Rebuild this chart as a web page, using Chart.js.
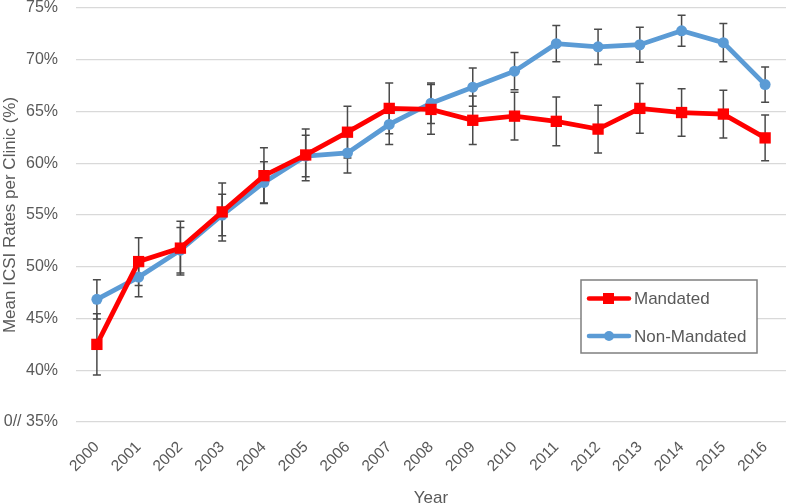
<!DOCTYPE html>
<html lang="en">
<head>
    <meta charset="UTF-8">
    <title>Mean ICSI Rates per Clinic</title>
    <script src="https://cdn.jsdelivr.net/npm/chart.js"></script>
    <style>
        html, body { margin: 0; padding: 0; background: #fff; overflow: hidden; }
        /* a little wider than the window: the x scale keeps ~8px on its right */
        #wrap { width: 794px; height: 504px; position: relative; }
        #icsiChart { display: block; }
    </style>
</head>
<body>
<div id="wrap">
    <canvas id="icsiChart"></canvas>
</div>

<script>
    // data
    const years = ['2000', '2001', '2002', '2003', '2004', '2005', '2006', '2007', '2008',
                   '2009', '2010', '2011', '2012', '2013', '2014', '2015', '2016'];
    const mandated = [42.5, 50.5, 51.8, 55.3, 58.8, 60.8, 63.0, 65.3, 65.2,
                      64.15, 64.55, 64.05, 63.3, 65.3, 64.9, 64.75, 62.45];
    const mandatedErr = [2.95, 2.3, 2.6, 2.8, 2.7, 2.5, 2.5, 2.45, 2.4,
                         2.35, 2.3, 2.35, 2.3, 2.4, 2.3, 2.3, 2.2];
    const nonMandated = [46.85, 49.0, 51.6, 55.0, 58.15, 60.7, 61.0, 63.75, 65.8,
                         67.35, 68.9, 71.55, 71.25, 71.45, 72.8, 71.65, 67.6];
    const nonMandatedErr = [1.9, 1.9, 2.2, 2.0, 2.0, 2.0, 1.95, 1.95, 1.95,
                            1.85, 1.8, 1.75, 1.7, 1.7, 1.5, 1.85, 1.7];
    const yTicks = [35, 40, 45, 50, 55, 60, 65, 70, 75];

    const FONT = "'Liberation Sans', Arial, sans-serif";
    const TXT = '#595959';

    // error bars drawn through the chart scales
    const errorBars = {
        id: 'errorBars',
        beforeDatasetsDraw(chart) {
            const ctx = chart.ctx;
            const x = chart.scales.x, y = chart.scales.y;
            ctx.save();
            ctx.strokeStyle = '#4a4a4a';
            ctx.lineWidth = 1.5;
            chart.data.datasets.forEach(ds => {
                ds.data.forEach((v, i) => {
                    const px = x.getPixelForValue(i);
                    const top = y.getPixelForValue(v + ds.errors[i]);
                    const bot = y.getPixelForValue(v - ds.errors[i]);
                    ctx.beginPath();
                    ctx.moveTo(px, top); ctx.lineTo(px, bot);
                    ctx.moveTo(px - 4, top); ctx.lineTo(px + 4, top);
                    ctx.moveTo(px - 4, bot); ctx.lineTo(px + 4, bot);
                    ctx.stroke();
                });
            });
            ctx.restore();
        }
    };

    // boxed legend inside the plot area, lower right
    const boxLegend = {
        id: 'boxLegend',
        afterDraw(chart) {
            const ctx = chart.ctx;
            const a = chart.chartArea;
            const bx = a.right - 205, by = a.top + 272, bw = 176, bh = 73;
            ctx.save();
            ctx.fillStyle = '#fff';
            ctx.fillRect(bx, by, bw, bh);
            ctx.strokeStyle = '#7f7f7f';
            ctx.lineWidth = 1.5;
            ctx.strokeRect(bx, by, bw, bh);
            chart.data.datasets.forEach((ds, i) => {
                const ly = by + 18.5 + i * 37.5;
                ctx.strokeStyle = ds.borderColor;
                ctx.lineWidth = 4.5;
                ctx.lineCap = 'round';
                ctx.beginPath();
                ctx.moveTo(bx + 8, ly); ctx.lineTo(bx + 48, ly);
                ctx.stroke();
                ctx.fillStyle = ds.borderColor;
                if (ds.pointStyle === 'rect') {
                    ctx.fillRect(bx + 22, ly - 5.5, 11, 11);
                } else {
                    ctx.beginPath();
                    ctx.arc(bx + 28, ly, 5, 0, Math.PI * 2);
                    ctx.fill();
                }
                ctx.fillStyle = TXT;
                ctx.font = '17px ' + FONT;
                ctx.textBaseline = 'middle';
                ctx.fillText(ds.label, bx + 53, ly + 1);
            });
            ctx.restore();
        }
    };

    function noPad(scale) {
        scale.paddingTop = 0;
        scale.paddingBottom = 0;
        scale.paddingLeft = 0;
        scale.paddingRight = 0;
    }

    new Chart(document.getElementById('icsiChart'), {
        type: 'line',
        data: {
            labels: years,
            datasets: [{
                label: 'Mandated',
                data: mandated,
                errors: mandatedErr,
                borderColor: '#ff0000',
                backgroundColor: '#ff0000',
                borderWidth: 4.8,
                pointStyle: 'rect',
                pointRadius: 8,
                pointBorderWidth: 0,
                tension: 0
            }, {
                label: 'Non-Mandated',
                data: nonMandated,
                errors: nonMandatedErr,
                borderColor: '#5b9bd5',
                backgroundColor: '#5b9bd5',
                borderWidth: 4.8,
                pointStyle: 'circle',
                pointRadius: 5.5,
                pointBorderWidth: 0,
                tension: 0
            }]
        },
        options: {
            responsive: true,
            maintainAspectRatio: false,
            animation: false,
            layout: { padding: { top: 7, right: 1, bottom: 0, left: 0 } },
            plugins: {
                legend: { display: false },
                tooltip: { enabled: false }
            },
            scales: {
                x: {
                    offset: true,
                    grid: { display: false, drawTicks: false },
                    border: { display: false },
                    ticks: {
                        color: TXT,
                        font: { family: FONT, size: 15.5 },
                        minRotation: 45,
                        maxRotation: 45,
                        padding: 16
                    },
                    title: {
                        display: true,
                        text: 'Year',
                        color: TXT,
                        font: { family: FONT, size: 17, lineHeight: 1 },
                        padding: { top: 0, bottom: -3 }
                    },
                    afterFit(scale) { scale.height = 82; noPad(scale); }
                },
                y: {
                    min: 35,
                    max: 75,
                    afterBuildTicks(scale) { scale.ticks = yTicks.map(v => ({ value: v })); },
                    grid: { color: '#d9d9d9', lineWidth: 1.3, drawTicks: false },
                    border: { display: false },
                    ticks: {
                        color: TXT,
                        font: { family: FONT, size: 16 },
                        padding: 18,
                        callback: v => (v === 35 ? '0// 35%' : v + '%')
                    },
                    title: {
                        display: true,
                        text: 'Mean ICSI Rates per Clinic (%)',
                        color: TXT,
                        font: { family: FONT, size: 17 },
                        padding: 0
                    },
                    afterFit(scale) { scale.width = 76; noPad(scale); }
                }
            }
        },
        plugins: [errorBars, boxLegend]
    });
</script>
</body>
</html>
